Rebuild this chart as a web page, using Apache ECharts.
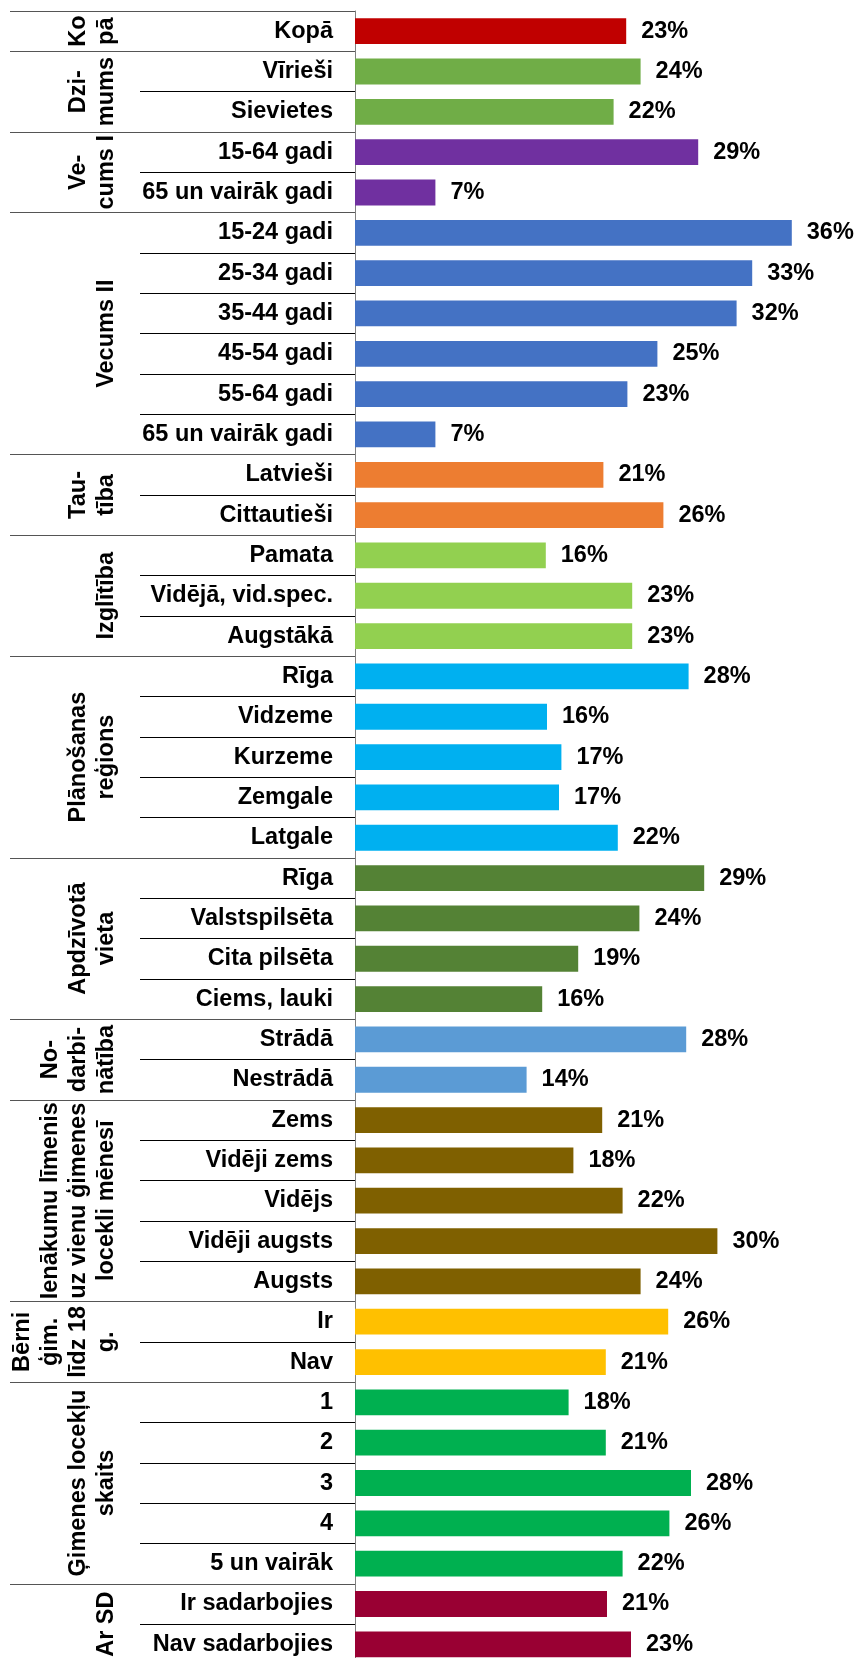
<!DOCTYPE html>
<html>
<head>
<meta charset="utf-8">
<script src="https://cdn.jsdelivr.net/npm/echarts@6/dist/echarts.min.js"></script>
<style>
  html, body { margin: 0; padding: 0; background: #fff; }
  #chart { width: 857px; height: 1658px; }
</style>
</head>
<body>
<div id="chart"></div>
<script>
// grupas (kreisā kolonna) un cik rindu katrā
const groups = [
  'Ko\npā',
  'Dzi-\nmums',
  'Ve-\ncums I',
  'Vecums II',
  'Tau-\ntība',
  'Izglītība',
  'Plānošanas\nreģions',
  'Apdzīvotā\nvieta',
  'No-\ndarbi-\nnātība',
  'Ienākumu līmenis\nuz vienu ģimenes\nlocekli mēnesī',
  'Bērni\nģim.\nlīdz 18\ng.',
  'Ģimenes locekļu\nskaits',
  'Ar SD'
]
const groupSizes = [1, 2, 2, 6, 2, 3, 5, 4, 2, 5, 2, 5, 2]

const categories = [
  'Kopā',
  'Vīrieši', 'Sievietes',
  '15-64 gadi', '65 un vairāk gadi',
  '15-24 gadi', '25-34 gadi', '35-44 gadi', '45-54 gadi', '55-64 gadi', '65 un vairāk gadi',
  'Latvieši', 'Cittautieši',
  'Pamata', 'Vidējā, vid.spec.', 'Augstākā',
  'Rīga', 'Vidzeme', 'Kurzeme', 'Zemgale', 'Latgale',
  'Rīga', 'Valstspilsēta', 'Cita pilsēta', 'Ciems, lauki',
  'Strādā', 'Nestrādā',
  'Zems', 'Vidēji zems', 'Vidējs', 'Vidēji augsts', 'Augsts',
  'Ir', 'Nav',
  '1', '2', '3', '4', '5 un vairāk',
  'Ir sadarbojies', 'Nav sadarbojies'
]

const values = [
  22.6,
  23.8, 21.55,
  28.6, 6.7,
  36.4, 33.1, 31.8, 25.2, 22.7, 6.7,
  20.7, 25.7,
  15.9, 23.1, 23.1,
  27.8, 16.0, 17.2, 17.0, 21.9,
  29.1, 23.7, 18.6, 15.6,
  27.6, 14.3,
  20.6, 18.2, 22.3, 30.2, 23.8,
  26.1, 20.9,
  17.8, 20.9, 28.0, 26.2, 22.3,
  21.0, 23.0
]

// krāsas pa grupām
const groupColors = [
  '#C00000', '#70AD47', '#7030A0', '#4472C4', '#ED7D31', '#92D050', '#00B0F0',
  '#548235', '#5B9BD5', '#7F6000', '#FFC000', '#00B050', '#990033'
]

const FONT = 'Arial, "Liberation Sans", sans-serif'

// grupu robežas un centri (rindu vienībās)
const boundaries = [0]
const centers = []
groupSizes.forEach(n => {
  const start = boundaries[boundaries.length - 1]
  centers.push(start + n / 2)
  boundaries.push(start + n)
})

const rowColors = []
groupSizes.forEach((n, gi) => {
  for (let i = 0; i < n; i++) rowColors.push(groupColors[gi])
})

const chart = echarts.init(document.getElementById('chart'))

const option = {
  animation: false,
  grid: {
    left: 355,
    top: 11,
    width: 480,
    height: 1653.5,
    outerBoundsMode: 'none'
  },
  xAxis: {
    type: 'value',
    min: 0,
    max: 40,
    show: false,
    splitLine: { show: false }
  },
  yAxis: [
    {
      type: 'category',
      data: categories,
      inverse: true,
      position: 'left',
      axisLine: { show: true, lineStyle: { color: '#7f7f7f', width: 1 } },
      axisTick: {
        show: true,
        interval: 0,
        length: 215,
        lineStyle: { color: '#000', width: 1 }
      },
      axisLabel: {
        interval: 0,
        margin: 22,
        color: '#000',
        fontSize: 23.5,
        fontWeight: 'bold',
        fontFamily: FONT
      }
    },
    {
      type: 'value',
      min: 0,
      max: categories.length,
      inverse: true,
      position: 'left',
      axisLine: { show: false },
      splitLine: { show: false },
      axisTick: {
        show: true,
        customValues: boundaries,
        length: 345,
        lineStyle: { color: '#555', width: 1 }
      },
      axisLabel: {
        customValues: centers,
        rotate: 90,
        margin: 234,
        color: '#000',
        fontSize: 23.5,
        lineHeight: 28,
        fontWeight: 'bold',
        fontFamily: FONT,
        align: 'center',
        formatter: v => {
          const i = centers.findIndex(c => Math.abs(c - v) < 1e-6)
          return i >= 0 ? groups[i] : ''
        }
      }
    }
  ],
  series: [
    {
      type: 'bar',
      yAxisIndex: 0,
      barCategoryGap: '36%',
      data: values.map((v, i) => ({ value: v, itemStyle: { color: rowColors[i] } })),
      label: {
        show: true,
        position: 'right',
        distance: 15,
        color: '#000',
        fontSize: 23.5,
        fontWeight: 'bold',
        fontFamily: FONT,
        formatter: p => Math.round(p.value) + '%'
      }
    }
  ]
}

chart.setOption(option)
</script>
</body>
</html>
